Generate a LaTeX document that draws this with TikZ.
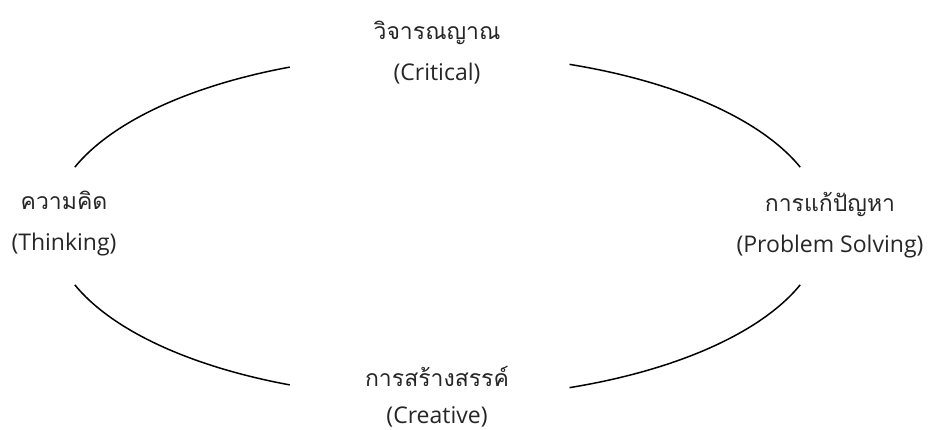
\documentclass[tikz,border=0pt]{standalone}
\usepackage{fontspec}
\usetikzlibrary{calc}
\setmainfont{Open Sans}
\newfontfamily\thaifont[Script=Thai]{Loma}
\begin{document}
\begin{tikzpicture}[x=1pt,y=1pt,
  lbl/.style={align=center,inner sep=0pt,font=\fontsize{23}{41}\selectfont,text=black!85},
  arcline/.style={line width=1.5pt,black}]
\useasboundingbox (0,0) rectangle (934,429);
\coordinate (c) at (437.5,203);
\node[lbl] (crit) at (437,376) {{\thaifont วิจารณญาณ}\\(Critical)};
\node[lbl] (think) at (64,205) {{\thaifont ความคิด}\\(Thinking)};
\node[lbl] (prob) at (830,204) {{\thaifont การแก้ปัญหา}\\(Problem Solving)};
\node[lbl,font=\fontsize{23}{37}\selectfont] (crea) at (437,32) {{\thaifont การสร้างสรรค์}\\(Creative)};
\coordinate (a1) at ($(c)+(112.5:386 and 172)$);
\coordinate (a2) at ($(c)+(20:386 and 172)$);
\coordinate (a3) at ($(c)+(200:386 and 172)$);
\coordinate (a4) at ($(c)+(290:386 and 172)$);
\draw[arcline] (a1) arc[start angle=112.5,end angle=160,x radius=386,y radius=172];
\draw[arcline] (a2) arc[start angle=20,end angle=70,x radius=386,y radius=172];
\draw[arcline] (a3) arc[start angle=200,end angle=247.5,x radius=386,y radius=172];
\draw[arcline] (a4) arc[start angle=290,end angle=340,x radius=386,y radius=172];
\end{tikzpicture}
\end{document}
